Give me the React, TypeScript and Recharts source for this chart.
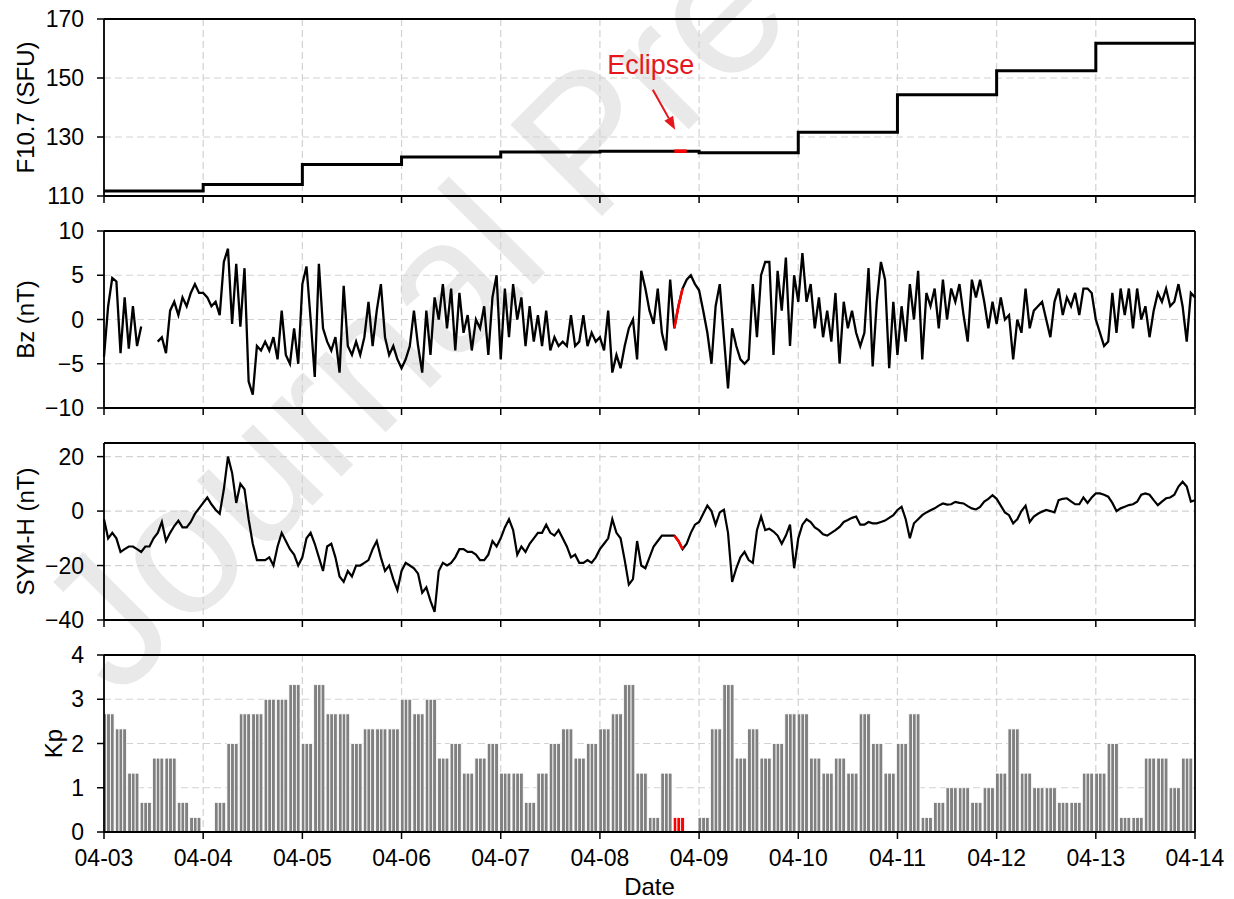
import React from 'react'
import {
  ComposedChart,
  Line,
  Bar,
  XAxis,
  YAxis,
  CartesianGrid,
  ReferenceLine,
  ReferenceDot,
} from 'recharts'

const FONT = '"Liberation Sans", Arial, Helvetica, sans-serif'
const RED = '#ff0000'
const NOTE_RED = '#e5171d'

// x is hours since 04-03 00 UT
const dateLabels = ['04-03', '04-04', '04-05', '04-06', '04-07', '04-08', '04-09', '04-10', '04-11', '04-12', '04-13', '04-14']
const dayTicks = dateLabels.map((_, i) => i * 24)
const END_H = 264

// eclipse window, 04-08 18-21 UT
const eclipseStart = 138
const eclipseEnd = 141

// daily F10.7 (SFU), 04-03 .. 04-13
const f107Daily = [111.7, 113.9, 120.7, 123.2, 124.9, 125.2, 124.7, 131.6, 144.3, 152.5, 161.8]

// hourly IMF Bz (nT), one row per day, last value is 04-14 00 UT
const bzHourly = [
  -4.2, 1.5, 4.7, 4.3, -3.8, 2.5, -3.3, 1.5, -3, -0.8, null, null, null, -2.5, -2, -3.8, 1, 2, 0.5, 2.5, 1.5, 3, 4, 3,
  3, 2.5, 1.5, 2, 0.5, 6.5, 8, -0.5, 6.3, -0.8, 5.8, -7, -8.5, -3, -3.5, -2.5, -3.5, -2, -4.5, 1, -4, -5, -1, -5,
  4, 6, 0, -6.5, 6.3, -1, -2.5, -3.5, -2, -6, 3.8, -3, -4, -2.5, -4, -2, 2, -3, 1, 4, -2, -4, -3, -4.5,
  -5.5, -4.5, -3, 1, -3, -6, 1, -4, 2.5, 0, 4, -1, 3.5, -3.5, 3, -1.5, 0.5, -3.5, 0, -1, 1.5, -4, 2.5, 5,
  -4.5, 3.5, -2, 4, 0, 2.5, -3, 1.5, -2.5, 0.5, -3, 1, -3.5, -2, -3, -2.5, -3, 0.5, -3, -2.5, 0.5, -3, -1.5, -2.5,
  -2, -3.5, 1, -6, -4, -5.5, -3, -1, 0, -4.5, 5.5, 3.5, 1, -0.5, 3.5, -1.5, -3.5, 4.5, -1, 1.5, 3.5, 4.5, 5, 4,
  3.3, 1, -1.5, -5, 1.5, 4, -2, -7.8, -1, -3, -4.5, -5, -4.5, 4, -2, 5, 6.5, 6.5, -4, 5.5, 1, 7, -3, 5,
  2, 7.5, 2, 4, -1, 2.5, -2, 1, -2.5, 3, -5, 2, -1, 1, -1.5, -3, -1.5, 5.8, -5.3, 2, 6.5, 4.5, -5.5, 2,
  -4, 1.5, -2.5, 4, 0, 5.5, -4.5, 3, 1.5, 3.5, -1, 4.5, 0, 3.5, 2, 4, 0.5, -2.5, 4.5, 2.5, 4.5, 2, -1, 2,
  -0.5, 2.5, 0, 0.5, -4.5, 0, -1.5, 3.5, -1, 1, 1.5, 2, 0, -2, 2, 3.5, 0.5, 2.5, 1.5, 3, 0.5, 3.5, 3.5, 3,
  0, -1.5, -3, -2.5, 3, -1.5, 3.5, 0.5, 3.5, -1, 3.5, 0, 1.5, -2, 1, 3, 2, 3.5, 1.5, 2, 4, 1.5, -2.5, 3,
  2.5,
]

// hourly SYM-H (nT)
const symhHourly = [
  -3, -10, -8, -10, -15, -14, -13, -13, -14, -15, -13, -13, -10, -8, -4, -11, -8, -5.5, -3.5, -6, -6, -4, -1, 1,
  3, 5, 2.5, 0.5, -1, 8, 20, 14, 3, 10, 8, -3, -12, -18, -18, -18, -17, -20, -13, -8, -11, -14, -16, -20,
  -17, -10, -8, -12, -17, -22, -13, -12, -17, -24, -26, -22, -24, -20, -20, -19, -18, -14, -11, -17, -22, -20, -25, -29,
  -22, -19, -20, -21, -23, -30, -28, -33, -37, -22, -19, -20, -19, -17, -14, -14, -15, -15, -16, -18, -18, -16, -11, -13,
  -10, -6, -3, -7, -16, -13, -15, -12, -10, -8, -8, -5, -8, -9, -7, -10, -13, -17, -16, -19, -19, -18, -19, -17,
  -14, -12, -10, -3, -8, -10, -18, -27, -25, -11, -20, -21, -17, -13, -11, -9, -9, -9, -9, -11, -14, -12, -8, -5,
  -4, -1, 2, 0, -5, -0.5, 0.5, -8, -26, -21, -17, -15, -18, -19, -7, -2, -7, -6.5, -7.5, -9, -12, -9, -5, -21,
  -10, -5, -3, -4, -6, -7, -8.5, -9, -8, -7, -5.8, -4, -3.3, -2.5, -2, -5, -5, -4, -4.5, -4.5, -4, -3.5, -2.5, -1.5,
  0.4, 1.6, -3, -10, -4.5, -3, -1.5, -0.5, 0.3, 1, 2, 2.8, 2.4, 2.5, 3.4, 3, 2.8, 1.8, 1, 0.6, 1.5, 3.5, 4.5, 5.8,
  4.5, 2, -0.5, -1.5, -4.5, -3, 0, 2, -4, -2, -1, -0.2, 0.4, 0, -0.5, 4, 4.5, 4.7, 3.6, 2.5, 2.5, 5, 3, 5,
  6.5, 6.5, 6, 5.3, 3, 0, 1, 1.6, 2.2, 2.5, 3.4, 6, 6.5, 6, 4, 2.2, 3.5, 4.7, 5, 6, 9, 10.8, 9, 3.5,
  4,
]

// 3-hourly Kp, 8 per day
const kp3h = [
  2.67, 2.33, 1.33, 0.67, 1.67, 1.67, 0.67, 0.33,
  0, 0.67, 2, 2.67, 2.67, 3, 3, 3.33,
  2, 3.33, 2.67, 2.67, 2, 2.33, 2.33, 2.33,
  3, 2.67, 3, 1.67, 2, 1.33, 1.67, 2,
  1.33, 1.33, 0.67, 1.33, 2, 2.33, 1.67, 2,
  2.33, 2.67, 3.33, 1.33, 0.33, 1.33, 0.33, 0,
  0.33, 2.33, 3.33, 1.67, 2.33, 1.67, 2, 2.67,
  2.67, 1.67, 1.33, 1.67, 1.33, 2.67, 2, 1.33,
  2, 2.67, 0.33, 0.67, 1, 1, 0.67, 1,
  1.33, 2.33, 1.33, 1, 1, 0.67, 0.67, 1.33,
  1.33, 2, 0.33, 0.33, 1.67, 1.67, 1, 1.67,
]

const inEclipse = (t: number) => t >= eclipseStart && t < eclipseEnd

const f107Rows = f107Daily
  .map((v, i) => ({ t: i * 24, f: v }))
  .concat([{ t: END_H, f: f107Daily[f107Daily.length - 1] }])
const f107Eclipse = [
  { t: eclipseStart, f: f107Daily[5] },
  { t: eclipseEnd, f: f107Daily[5] },
]
const bzRows = bzHourly.map((v, i) => ({ t: i, bz: v, ecl: inEclipse(i) ? v : null }))
const symhRows = symhHourly.map((v, i) => ({ t: i, s: v, ecl: inEclipse(i) ? v : null }))
// hourly bars centred on the hour, so a 3 h block starts half an hour early
const kpRows = kp3h.map((v, i) => ({ t: i * 3 + 1, kp: v, ecl: inEclipse(i * 3) }))

// layout
const W = 1234
const H = 899
const PLOT_L = 104
const PLOT_R = 1195
const PANEL_H = 177
const PAD_T = 16
const PAD_B = 16
const BOTTOM_AXIS_H = 62
const BOTTOM_GAP = 5
const panelTops = [19, 231, 443, 655]

const axisLineStyle = { stroke: '#000', strokeWidth: 1.8 }
const tickLineStyle = { stroke: '#000', strokeWidth: 1.5 }
const tickStyle = { fill: '#000', fontSize: 23, fontFamily: FONT }
const fmtMinus = (v: number) => String(v).replace('-', '\u2212')

function DateLabel(props: any) {
  const vb = props.viewBox
  return (
    <text x={vb.x + vb.width / 2} y={vb.y + 54} textAnchor="middle" dominantBaseline="central"
      fontSize={24} fontFamily={FONT} fill="#000">
      Date
    </text>
  )
}

function yLabel(text: string, cx: number) {
  return {
    content: (props: any) => {
      const vb = props.viewBox
      const cy = vb.y + vb.height / 2
      return (
        <text x={cx} y={cy} transform={`rotate(-90 ${cx} ${cy})`} textAnchor="middle"
          dominantBaseline="central" fontSize={24} fontFamily={FONT} fill="#000">
          {text}
        </text>
      )
    },
  }
}

function xAxisEl(showLabels: boolean) {
  return (
    <XAxis
      dataKey="t"
      type="number"
      domain={[0, END_H]}
      ticks={dayTicks}
      interval={0}
      height={showLabels ? BOTTOM_AXIS_H : PAD_B}
      tickSize={7}
      tickMargin={11}
      axisLine={axisLineStyle}
      tickLine={tickLineStyle}
      tick={tickStyle}
      tickFormatter={showLabels ? (v: number) => dateLabels[Math.round(v / 24)] : () => ''}
      label={showLabels ? { content: DateLabel } : undefined}
    />
  )
}

function yAxisEl(domain: [number, number], ticks: number[], label: string, labelX: number) {
  return (
    <YAxis
      type="number"
      domain={domain}
      ticks={ticks}
      interval={0}
      width={PLOT_L}
      tickSize={7}
      tickMargin={13}
      axisLine={axisLineStyle}
      tickLine={tickLineStyle}
      tick={tickStyle}
      tickFormatter={fmtMinus}
      label={yLabel(label, labelX)}
    />
  )
}

const grid = <CartesianGrid stroke="#d2d2d2" strokeDasharray="7 4" strokeWidth={1.2} />

function chartProps(last: boolean) {
  return {
    width: W,
    height: PAD_T + PANEL_H + (last ? BOTTOM_AXIS_H + BOTTOM_GAP : PAD_B),
    margin: { top: PAD_T, right: W - PLOT_R, bottom: last ? BOTTOM_GAP : 0, left: 0 },
  }
}

function Arrow(props: any) {
  const { x1, y1, x2, y2 } = props
  const a = Math.atan2(y2 - y1, x2 - x1)
  const len = 13
  const half = 5
  const bx = x2 - len * Math.cos(a)
  const by = y2 - len * Math.sin(a)
  const px = -Math.sin(a) * half
  const py = Math.cos(a) * half
  return (
    <g>
      <line x1={x1} y1={y1} x2={bx} y2={by} stroke={NOTE_RED} strokeWidth={2} />
      <polygon points={`${x2},${y2} ${bx + px},${by + py} ${bx - px},${by - py}`} fill={NOTE_RED} />
    </g>
  )
}

function KpBar(props: any) {
  const { x, y, width, height, payload } = props
  if (!height || height <= 0) return null
  const hw = width / 3
  const fill = payload.ecl ? RED : '#808080'
  return (
    <g>
      {[0, 1, 2].map((k) => {
        const x0 = Math.max(x + k * hw, PLOT_L)
        const x1 = x + (k + 1) * hw
        if (x1 <= x0) return null
        return <rect key={k} x={x0} y={y} width={x1 - x0} height={height} fill={fill} stroke="#fff" strokeWidth={0.8} />
      })}
    </g>
  )
}

function Panel({ top, children }: { top: number; children: React.ReactNode }) {
  return <div style={{ position: 'absolute', left: 0, top: top - PAD_T }}>{children}</div>
}

export default function App() {
  return (
    <div style={{ position: 'absolute', left: 0, top: 0, width: W, height: H, background: '#fff', fontFamily: FONT, overflow: 'hidden' }}>
      <svg width={W} height={H} style={{ position: 'absolute', left: 0, top: 0 }}>
        <text x={118} y={700} transform="rotate(-45 118 700)" fontSize={188} fontFamily={FONT} fill="#e9e9e9">
          Journal Pre-proof
        </text>
      </svg>

      <Panel top={panelTops[0]}>
        <ComposedChart {...chartProps(false)} data={f107Rows}>
          {grid}
          {xAxisEl(false)}
          {yAxisEl([110, 170], [110, 130, 150, 170], 'F10.7 (SFU)', 25)}
          <Line type="stepAfter" dataKey="f" stroke="#000" strokeWidth={3} dot={false} activeDot={false} isAnimationActive={false} />
          <Line data={f107Eclipse} type="linear" dataKey="f" stroke={RED} strokeWidth={3.5} dot={false} activeDot={false} isAnimationActive={false} />
          <ReferenceLine segment={[{ x: 132.8, y: 146 }, { x: 138.2, y: 132.5 }]} shape={Arrow} />
          <ReferenceDot
            x={132.3}
            y={154.4}
            r={0}
            shape={(p: any) => (
              <text x={p.cx} y={p.cy} textAnchor="middle" dominantBaseline="central" fontSize={27} fontFamily={FONT} fill={NOTE_RED}>
                Eclipse
              </text>
            )}
          />
          <ReferenceLine y={170} stroke="#000" strokeWidth={1.8} />
          <ReferenceLine x={END_H} stroke="#000" strokeWidth={1.8} />
        </ComposedChart>
      </Panel>

      <Panel top={panelTops[1]}>
        <ComposedChart {...chartProps(false)} data={bzRows}>
          {grid}
          {xAxisEl(false)}
          {yAxisEl([-10, 10], [-10, -5, 0, 5, 10], 'Bz (nT)', 25)}
          <Line type="linear" dataKey="bz" stroke="#000" strokeWidth={2.3} dot={false} activeDot={false} isAnimationActive={false} />
          <Line type="linear" dataKey="ecl" stroke={RED} strokeWidth={2.6} dot={false} activeDot={false} isAnimationActive={false} />
          <ReferenceLine y={10} stroke="#000" strokeWidth={1.8} />
          <ReferenceLine x={END_H} stroke="#000" strokeWidth={1.8} />
        </ComposedChart>
      </Panel>

      <Panel top={panelTops[2]}>
        <ComposedChart {...chartProps(false)} data={symhRows}>
          {grid}
          {xAxisEl(false)}
          {yAxisEl([-40, 25], [-40, -20, 0, 20], 'SYM-H (nT)', 25)}
          <Line type="linear" dataKey="s" stroke="#000" strokeWidth={2.2} dot={false} activeDot={false} isAnimationActive={false} />
          <Line type="linear" dataKey="ecl" stroke={RED} strokeWidth={2.6} dot={false} activeDot={false} isAnimationActive={false} />
          <ReferenceLine y={25} stroke="#000" strokeWidth={1.8} />
          <ReferenceLine x={END_H} stroke="#000" strokeWidth={1.8} />
        </ComposedChart>
      </Panel>

      <Panel top={panelTops[3]}>
        <ComposedChart {...chartProps(true)} data={kpRows}>
          {grid}
          {xAxisEl(true)}
          {yAxisEl([0, 4], [0, 1, 2, 3, 4], 'Kp', 53)}
          <Bar dataKey="kp" barSize={(PLOT_R - PLOT_L) / kp3h.length} shape={KpBar} isAnimationActive={false} />
          <ReferenceLine y={4} stroke="#000" strokeWidth={1.8} />
          <ReferenceLine x={END_H} stroke="#000" strokeWidth={1.8} />
        </ComposedChart>
      </Panel>
    </div>
  )
}
